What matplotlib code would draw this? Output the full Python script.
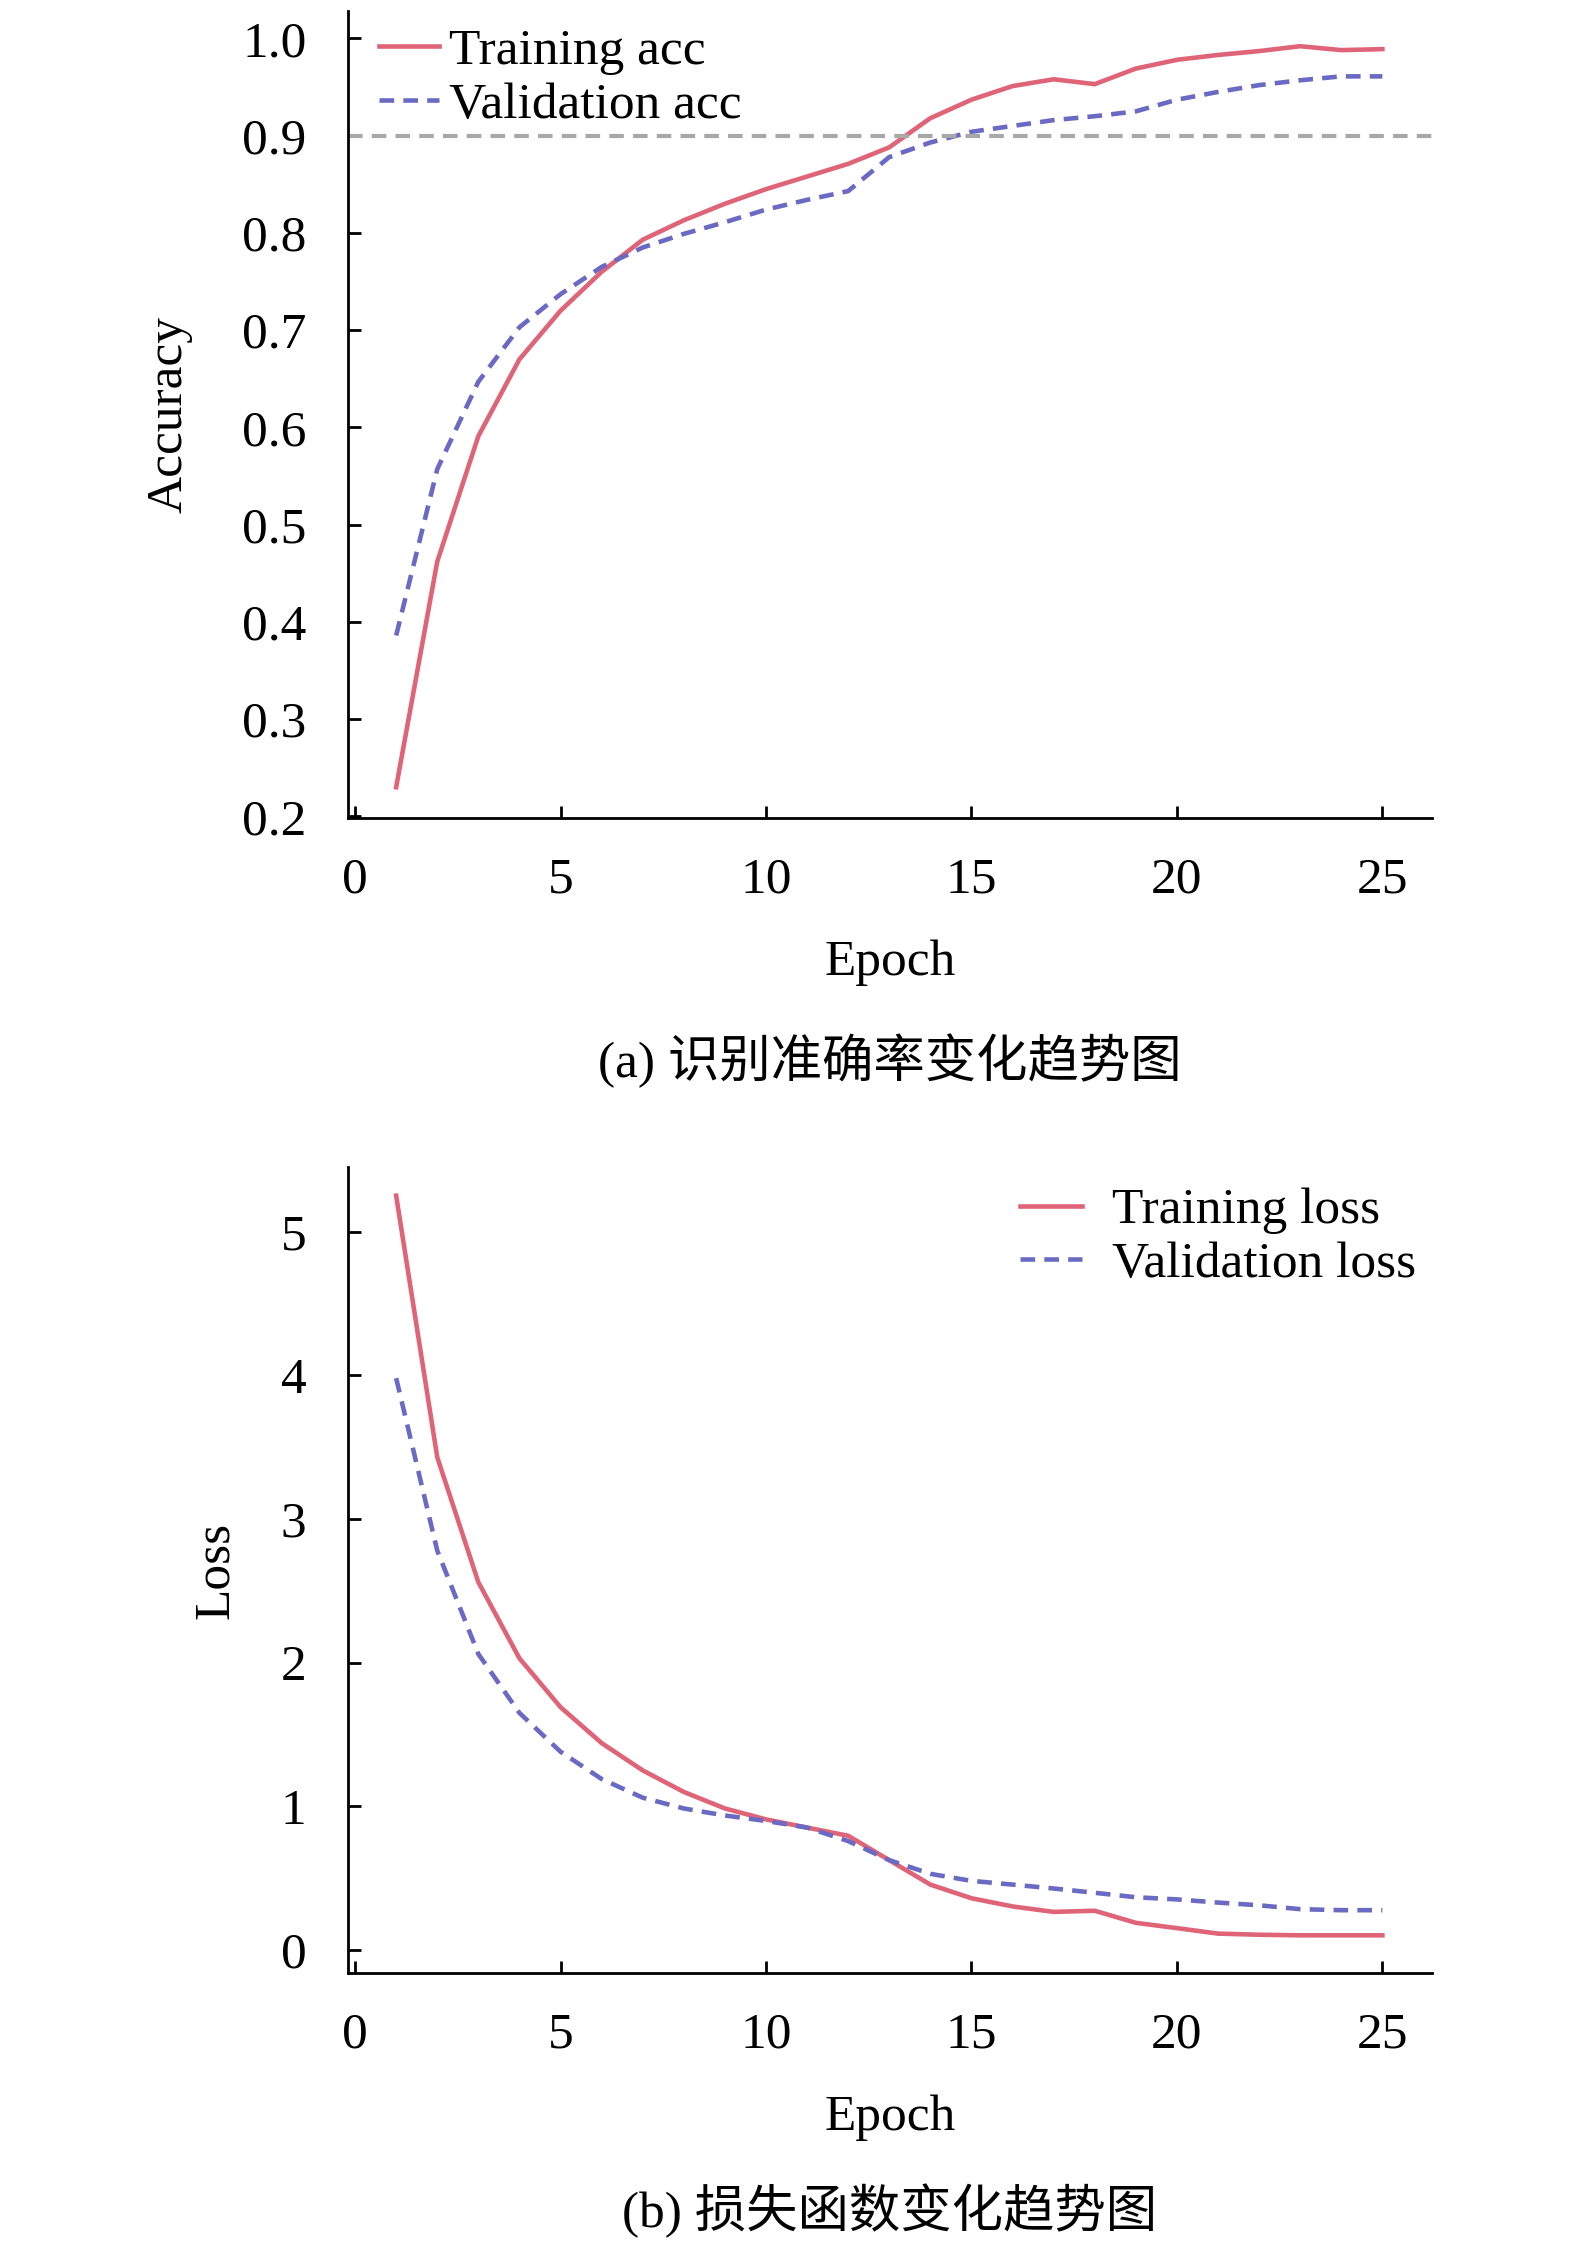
import matplotlib
matplotlib.use("Agg")
import matplotlib.pyplot as plt
import numpy as np

# 数据
epochs = list(range(1, 26))
train_acc = [0.23, 0.462, 0.591, 0.670, 0.720, 0.760, 0.793, 0.813, 0.830, 0.845,
             0.858, 0.871, 0.888, 0.918, 0.937, 0.951, 0.958, 0.953, 0.969, 0.978,
             0.983, 0.987, 0.992, 0.988, 0.989]
val_acc = [0.386, 0.557, 0.647, 0.703, 0.737, 0.765, 0.785, 0.799, 0.811, 0.824,
           0.834, 0.843, 0.878, 0.893, 0.904, 0.910, 0.916, 0.920, 0.925, 0.937,
           0.945, 0.952, 0.957, 0.961, 0.961]
train_loss = [5.25, 3.43, 2.56, 2.03, 1.69, 1.44, 1.25, 1.10, 0.985, 0.909,
              0.852, 0.795, 0.625, 0.455, 0.360, 0.303, 0.265, 0.273, 0.189, 0.152,
              0.114, 0.106, 0.102, 0.102, 0.102]
val_loss = [3.98, 2.78, 2.06, 1.65, 1.38, 1.19, 1.06, 0.985, 0.936, 0.898,
            0.852, 0.758, 0.625, 0.530, 0.481, 0.455, 0.428, 0.398, 0.367, 0.352,
            0.330, 0.311, 0.284, 0.277, 0.277]
acc_ticks = [0.2, 0.3, 0.4, 0.5, 0.6, 0.7, 0.8, 0.9, 1.0]
loss_ticks = [0, 1, 2, 3, 4, 5]
x_ticks = [0, 5, 10, 15, 20, 25]

plt.rcParams['font.family'] = ['Liberation Serif', 'Noto Sans CJK SC']
fs = 37

red = "#e06478"
blue = "#6a6ac4"
dash = (3.2, 2.0)

fig = plt.figure(figsize=(15.75, 22.42), dpi=100)
ax1 = fig.add_axes([0.221, 0.635, 0.688, 0.360])
ax2 = fig.add_axes([0.221, 0.120, 0.688, 0.3595])


def style(ax):
    for s in ["top", "right"]:
        ax.spines[s].set_visible(False)
    for s in ["left", "bottom"]:
        ax.spines[s].set_linewidth(2)
    ax.tick_params(direction="in", length=9, width=2, labelsize=fs)
    ax.tick_params(axis="y", pad=30)
    ax.tick_params(axis="x", pad=28)
    ax.set_xlim(-0.17, 26.2)
    ax.set_xticks(x_ticks)


ax1.plot(epochs, train_acc, "-", color=red, lw=3.3, label="Training acc")
ax1.plot(epochs, val_acc, "--", color=blue, lw=3.3, dashes=dash, label="Validation acc")
ax1.axhline(0.9, color="#a8a8a8", ls="--", lw=3, dashes=(3.5, 2.2))
style(ax1)
ax1.set_ylim(0.198, 1.028)
ax1.set_yticks(acc_ticks)
ax1.set_yticklabels([f"{t:.1f}" for t in acc_ticks])
ax1.set_ylabel("Accuracy", fontsize=fs, labelpad=36)
ax1.set_xlabel("Epoch", fontsize=fs, labelpad=26)
ax1.legend(loc="upper left", frameon=False, fontsize=fs, handlelength=1.15,
           handletextpad=0.2, labelspacing=0.15, borderaxespad=0.0,
           bbox_to_anchor=(0.01, 1.005))
ax1.text(0.5, -0.30, "(a) 识别准确率变化趋势图", transform=ax1.transAxes,
         ha="center", va="center", fontsize=fs)

ax2.plot(epochs, train_loss, "-", color=red, lw=3.3, label="Training loss")
ax2.plot(epochs, val_loss, "--", color=blue, lw=3.3, dashes=dash, label="Validation loss")
style(ax2)
ax2.set_ylim(-0.16, 5.45)
ax2.set_yticks(loss_ticks)
ax2.set_ylabel("Loss", fontsize=fs, labelpad=30)
ax2.set_xlabel("Epoch", fontsize=fs, labelpad=26)
ax2.legend(loc="upper right", frameon=False, fontsize=fs, handlelength=1.2,
           handletextpad=0.6, labelspacing=0.12, borderaxespad=0.0,
           bbox_to_anchor=(1.005, 1.0))
ax2.text(0.5, -0.295, "(b) 损失函数变化趋势图", transform=ax2.transAxes,
         ha="center", va="center", fontsize=fs)

fig.savefig("out.png", dpi=100)
